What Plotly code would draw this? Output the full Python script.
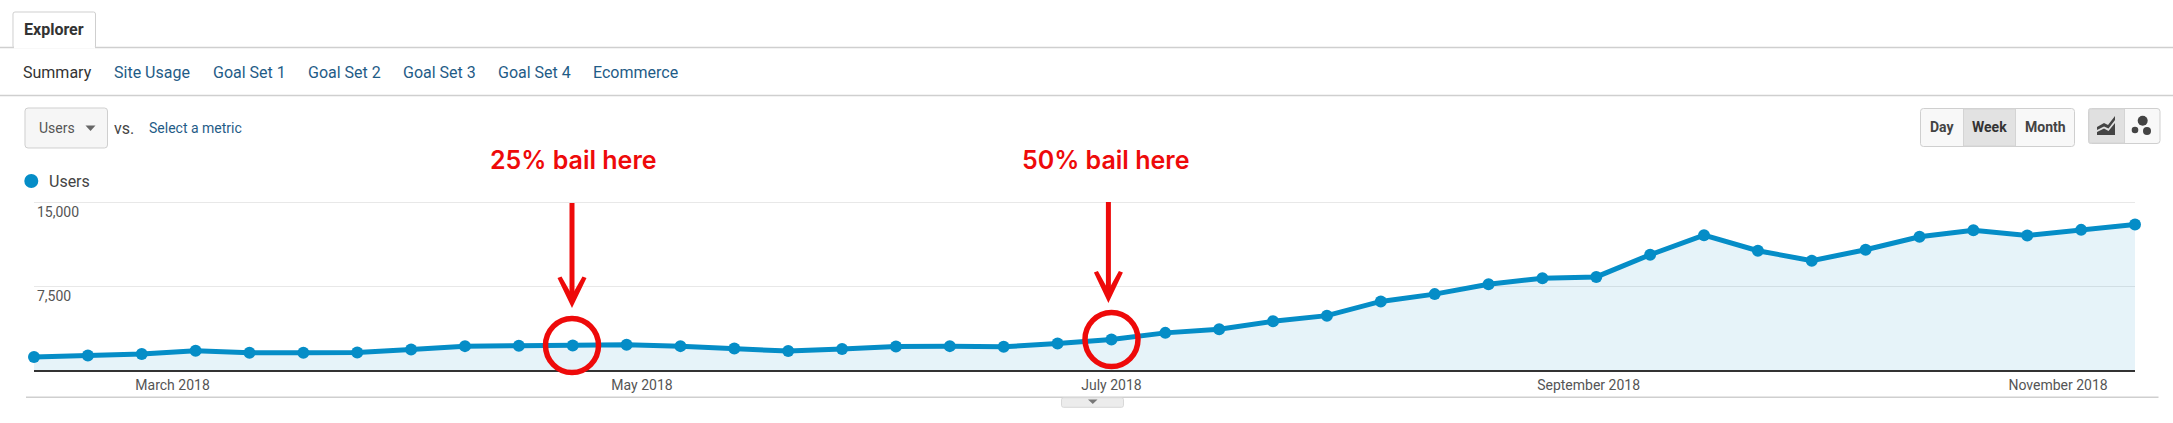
import plotly.graph_objects as go
import pandas as pd

W, H = 2173, 423

# ---- data ----
week_start = "2018-02-11"
weeks = pd.date_range(week_start, periods=40, freq="7D")
users = [1184, 1332, 1450, 1746, 1569, 1569, 1598, 1865, 2160, 2190,
         2220, 2280, 2160, 1954, 1717, 1894, 2131, 2160, 2100, 2398,
         2753, 3345, 3670, 4380, 4884, 6157, 6808, 7696, 8229, 8347,
         10330, 12077, 10686, 9798, 10774, 11929, 12520, 12047, 12550, 13024]
month_ticks = ["2018-03-01", "2018-05-01", "2018-07-01", "2018-09-01", "2018-11-01"]
month_labels = ["March 2018", "May 2018", "July 2018", "September 2018", "November 2018"]
y_ticks = [7500, 15000]
y_labels = ["7,500", "15,000"]
nav_items = ["Summary", "Site Usage", "Goal Set 1", "Goal Set 2", "Goal Set 3", "Goal Set 4", "Ecommerce"]
nav_left = [22, 112.5, 211.5, 306.5, 401.5, 496.5, 591.5]
callout_text = ["25% bail here", "50% bail here"]

# ---- styling ----
BLUE = "#058dc7"
RED = "#ee0a0a"
LINK = "#1f5c87"
GREY = "#cfcfcf"
FONT = "Roboto, Arial, sans-serif"
PLOT_L, PLOT_R, PLOT_T, PLOT_B = 34, 2135, 201, 370.3


def X(px):
    return px / W


def Y(py):
    return 1 - py / H


def P(points):
    return "M " + " L ".join(f"{X(a):.5f},{Y(b):.5f}" for a, b in points) + " Z"


fig = go.Figure()
fig.add_trace(go.Scatter(
    x=weeks, y=users, mode="lines+markers", name="Users",
    line=dict(color=BLUE, width=5),
    marker=dict(color=BLUE, size=12),
    fill="tozeroy", fillcolor="rgba(5,141,199,0.1)",
    cliponaxis=False, showlegend=False,
    hovertemplate="%{x|%b %d, %Y}<br>Users: %{y:,}<extra></extra>",
))

shapes = []
ann = []


def rect(x0, y0, x1, y1, fill="white", line=GREY, lw=1, r=None, layer="below"):
    if r:
        a, b = r / W, r / H
        l, rr, t, bb = X(x0), X(x1), Y(y0), Y(y1)
        path = (f"M {l+a:.5f},{t:.5f} L {rr-a:.5f},{t:.5f} Q {rr:.5f},{t:.5f} {rr:.5f},{t-b:.5f} "
                f"L {rr:.5f},{bb+b:.5f} Q {rr:.5f},{bb:.5f} {rr-a:.5f},{bb:.5f} "
                f"L {l+a:.5f},{bb:.5f} Q {l:.5f},{bb:.5f} {l:.5f},{bb+b:.5f} "
                f"L {l:.5f},{t-b:.5f} Q {l:.5f},{t:.5f} {l+a:.5f},{t:.5f} Z")
        shapes.append(dict(type="path", xref="paper", yref="paper", path=path, fillcolor=fill,
                           line=dict(color=line, width=lw), layer=layer))
    else:
        shapes.append(dict(type="rect", xref="paper", yref="paper", x0=X(x0), x1=X(x1), y0=Y(y0), y1=Y(y1),
                           fillcolor=fill, line=dict(color=line, width=lw), layer=layer))


def hline(x0, x1, y, color=GREY, lw=1.5):
    shapes.append(dict(type="line", xref="paper", yref="paper", x0=X(x0), x1=X(x1), y0=Y(y), y1=Y(y),
                       line=dict(color=color, width=lw), layer="below"))


def text(s, x, y, size=14, color="#444444", anchor="left", bold=False, family=FONT, weight=None):
    f = dict(size=size, color=color, family=family)
    if weight:
        f["weight"] = weight
    ann.append(dict(text=f"<b>{s}</b>" if bold else s, x=X(x), y=Y(y), xref="paper", yref="paper",
                    xanchor=anchor, yanchor="middle", showarrow=False, font=f, borderpad=0))


def dot(cx, cy, r, color):
    shapes.append(dict(type="circle", xref="paper", yref="paper", x0=X(cx - r), x1=X(cx + r),
                       y0=Y(cy + r), y1=Y(cy - r), fillcolor=color, line=dict(width=0), layer="above"))


# tab strip
hline(0, W, 47.5)
rect(13, 12, 95.5, 48, r=2)
hline(14, 95, 47.8, color="white", lw=2)
text("Explorer", 54, 30, size=16, color="#333333", anchor="center", bold=True)

# sub navigation
for i, (item, left) in enumerate(zip(nav_items, nav_left)):
    text(item, left, 72.3, size=16, color="#333333" if i == 0 else LINK)
hline(0, W, 95.5)

# metric selector
rect(25, 108, 107.5, 148, fill="#f6f6f6", r=3)
text("Users", 38, 128, size=14, color="#555555")
shapes.append(dict(type="path", xref="paper", yref="paper", path=P([(85.5, 125.5), (95.5, 125.5), (90.5, 131)]),
                   fillcolor="#666666", line=dict(width=0), layer="above"))
text("vs.", 113, 128, size=16, color="#444444")
text("Select a metric", 148, 128, size=14, color=LINK)

# day / week / month buttons
rect(1920.5, 108.5, 2074.5, 146.5, fill="#f8f8f8", r=3)
rect(1963.5, 109, 2015.5, 146, fill="#e2e2e2", line="#d4d4d4", lw=1)
text("Day", 1942, 127, size=14, color="#444444", anchor="center", bold=True)
text("Week", 1989.5, 127, size=14, color="#333333", anchor="center", bold=True)
text("Month", 2045, 127, size=14, color="#444444", anchor="center", bold=True)

# chart-type buttons
rect(2088.5, 108.5, 2160, 143.5, fill="#f8f8f8", r=3)
rect(2089, 109, 2124.5, 143, fill="#e0e0e0", line="#d4d4d4", lw=1)
shapes.append(dict(type="path", xref="paper", yref="paper",
                   path=P([(2097, 127), (2104, 123), (2108, 125), (2115, 116), (2115, 120),
                           (2108.5, 128.5), (2104, 126.5), (2097, 130)]),
                   fillcolor="#444444", line=dict(width=0), layer="above"))
shapes.append(dict(type="path", xref="paper", yref="paper",
                   path=P([(2097, 132), (2104, 128.5), (2108.5, 131), (2115, 123), (2115, 135), (2097, 135)]),
                   fillcolor="#444444", line=dict(width=0), layer="above"))
dot(2142.7, 120.7, 5, "#444444")
dot(2135, 130, 3.3, "#444444")
dot(2147, 131, 4, "#444444")

# legend entry
dot(31.3, 181, 7, BLUE)
text("Users", 47.5, 181, size=16, color="#444444")

# bottom rule and collapse handle
hline(26, 2158.5, 397.3)
rect(1061.5, 397.7, 1123.5, 407.3, fill="#ececec", line="#d8d8d8", r=2)
shapes.append(dict(type="path", xref="paper", yref="paper", path=P([(1088, 399.5), (1097.5, 399.5), (1092.8, 404)]),
                   fillcolor="#777777", line=dict(width=0), layer="above"))

# red call-outs
callout_geo = [
    dict(tx=573, ty=160.5, ax=572, atop=203, tip=308, wing=278, cx=572, cy=345.5),
    dict(tx=1105, ty=159.5, ax=1108.4, atop=202, tip=303, wing=272.5, cx=1111.5, cy=339.5),
]
for label, g in zip(callout_text, callout_geo):
    text(label, g["tx"], g["ty"], size=25, color=RED, anchor="center",
         family="Inter, Arial, sans-serif", weight=600)
    shapes.append(dict(type="line", xref="paper", yref="paper", x0=X(g["ax"]), x1=X(g["ax"]),
                       y0=Y(g["atop"]), y1=Y(g["tip"] - 8), line=dict(color=RED, width=5), layer="above"))
    a, t, w = g["ax"], g["tip"], g["wing"]
    shapes.append(dict(type="path", xref="paper", yref="paper",
                       path=P([(a, t), (a - 14.5, w), (a - 10.5, w - 1.5), (a, t - 13), (a + 10.5, w - 1.5), (a + 14.5, w)]),
                       fillcolor=RED, line=dict(width=0), layer="above"))
    shapes.append(dict(type="circle", xref="paper", yref="paper",
                       x0=X(g["cx"] - 26.5), x1=X(g["cx"] + 26.5), y0=Y(g["cy"] + 27), y1=Y(g["cy"] - 27),
                       fillcolor="rgba(0,0,0,0)", line=dict(color=RED, width=5.5), layer="above"))

fig.update_layout(
    width=W, height=H, autosize=False,
    margin=dict(l=0, r=0, t=0, b=0),
    paper_bgcolor="white", plot_bgcolor="white",
    font=dict(family=FONT, color="#444444", size=14),
    shapes=shapes, annotations=ann, showlegend=False,
    xaxis=dict(
        domain=[X(PLOT_L), X(PLOT_R)],
        range=[weeks[0], weeks[-1]], type="date",
        tickmode="array", tickvals=month_ticks, ticktext=month_labels,
        ticks="", showgrid=False, zeroline=False,
        showline=True, linecolor="#333333", linewidth=1.5,
        tickfont=dict(size=14, color="#555555", family=FONT),
        ticklabelstandoff=1,
    ),
    yaxis=dict(
        domain=[Y(PLOT_B), Y(PLOT_T)],
        range=[0, 15130],
        tickmode="array", tickvals=y_ticks, ticktext=y_labels,
        ticks="", showgrid=True, gridcolor="#e8e8e8", gridwidth=1,
        zeroline=False, showline=False,
        ticklabelposition="inside bottom",
        tickfont=dict(size=14, color="#555555", family=FONT),
    ),
)

fig.write_html("out.html", config=dict(displayModeBar=False),
               post_script="document.body.style.margin='0';document.documentElement.style.overflow='hidden';")
